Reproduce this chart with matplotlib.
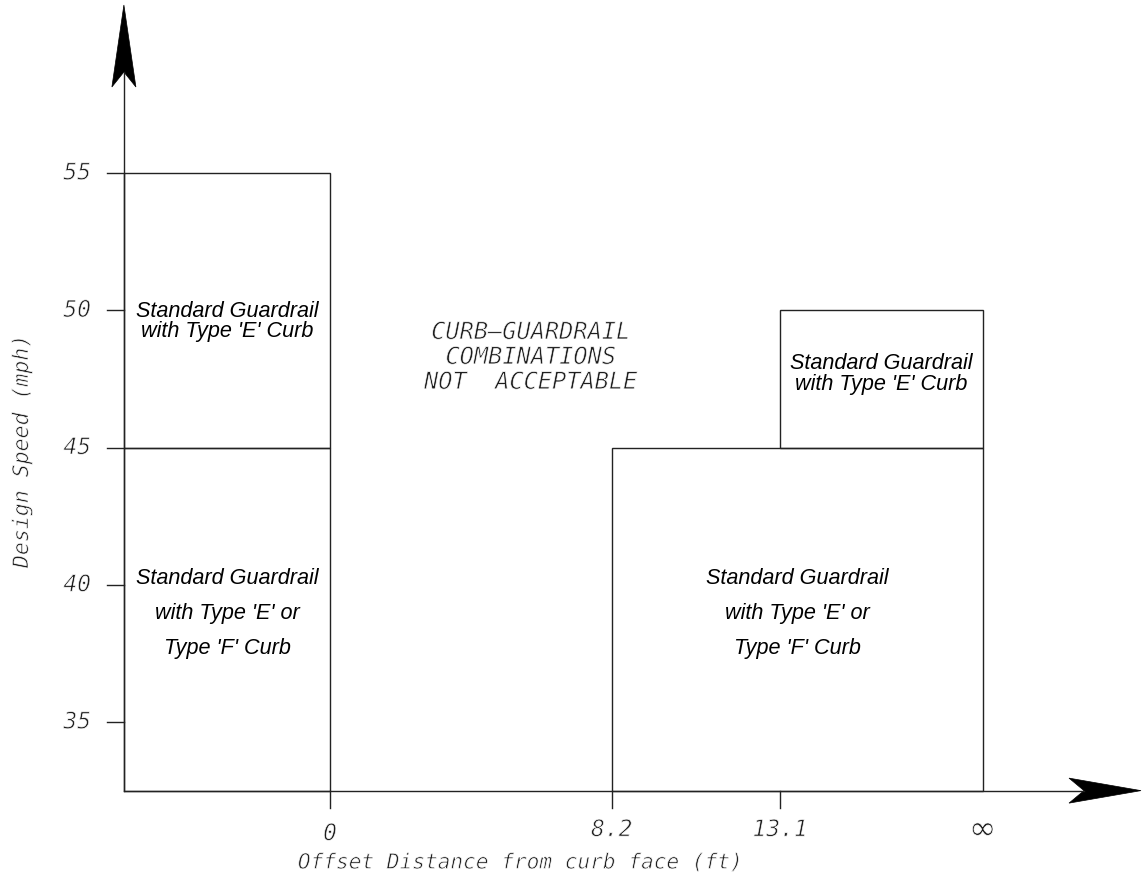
import matplotlib
matplotlib.use("Agg")
import matplotlib.pyplot as plt
import matplotlib.patheffects as pe
from matplotlib.patches import Rectangle, Polygon

# ---- data ----
speed_ticks = [35, 40, 45, 50, 55]
offset_ticks = [0, 8.2, 13.1]
offset_labels = ["0", "8.2", "13.1", "\u221e"]
inf_pos = 19.0          # plotting position used for "infinity"
x_origin = -6.0         # where the vertical axis sits
y_origin = 32.5         # where the horizontal axis sits

# regions: (x_left, x_right, y_bottom, y_top)
region_x0 = [x_origin, x_origin, 8.2, 13.1]
region_x1 = [0, 0, inf_pos, inf_pos]
region_y0 = [y_origin, 45, y_origin, 45]
region_y1 = [45, 55, 45, 50]
region_text = [
    "Standard Guardrail\nwith Type 'E' or\nType 'F' Curb",
    "Standard Guardrail\nwith Type 'E' Curb",
    "Standard Guardrail\nwith Type 'E' or\nType 'F' Curb",
    "Standard Guardrail\nwith Type 'E' Curb",
]
region_text_y = [38.95, 49.6, 38.95, 47.68]
region_linespacing = [1.9, 0.95, 1.9, 0.95]

center_text = "CURB\u2013GUARDRAIL\nCOMBINATIONS\nNOT  ACCEPTABLE"

# ---- figure ----
W, H = 1142, 894
fig = plt.figure(figsize=(W / 100, H / 100), dpi=100)
ax = fig.add_axes([0, 0, 1, 1])
px_x = 34.35   # pixels per ft
px_y = 27.45   # pixels per mph
x0_px, y55_px = 330, 173
ax.set_xlim(-x0_px / px_x, (W - x0_px) / px_x)
ax.set_ylim(55 - (H - y55_px) / px_y, 55 + y55_px / px_y)
ax.axis("off")

LC = "#222222"
LW = 1.0
TC = "#1e1e1e"
thin = [pe.Stroke(linewidth=0.5, foreground="white")]
cad = dict(family="DejaVu Sans Mono", style="oblique", color=TC,
           path_effects=thin)

# regions
for xa, xb, ya, yb in zip(region_x0, region_x1, region_y0, region_y1):
    ax.add_patch(Rectangle((xa, ya), xb - xa, yb - ya, fill=False,
                           edgecolor=LC, linewidth=LW))
for xa, xb, ty, t, ls in zip(region_x0, region_x1, region_text_y,
                             region_text, region_linespacing):
    ax.text((xa + xb) / 2, ty, t, ha="center", va="center",
            family="Liberation Sans", style="italic", fontsize=15.6,
            color="black", linespacing=ls)

# axes lines
ytop = ax.get_ylim()[1] - 5 / px_y
xright = ax.get_xlim()[1] - 1 / px_x
head_len_y, notch_y, half_w_y = 82 / px_y, 67 / px_y, 12 / px_x
head_len_x, notch_x, half_w_x = 72 / px_x, 57 / px_x, 12.5 / px_y
ax.plot([x_origin, x_origin], [y_origin, ytop - notch_y], color=LC, lw=LW)
ax.plot([x_origin, xright - notch_x], [y_origin, y_origin], color=LC, lw=LW)
ax.add_patch(Polygon([(x_origin, ytop),
                      (x_origin + half_w_y, ytop - head_len_y),
                      (x_origin, ytop - notch_y),
                      (x_origin - half_w_y, ytop - head_len_y)],
                     closed=True, facecolor="black", edgecolor="black", lw=0.5))
ax.add_patch(Polygon([(xright, y_origin),
                      (xright - head_len_x, y_origin + half_w_x),
                      (xright - notch_x, y_origin),
                      (xright - head_len_x, y_origin - half_w_x)],
                     closed=True, facecolor="black", edgecolor="black", lw=0.5))

# ticks
tlx = 17 / px_x
tly = 17 / px_y
for s in speed_ticks:
    ax.plot([x_origin - tlx, x_origin], [s, s], color=LC, lw=LW)
    ax.text(x_origin - 33 / px_x, s, str(s), ha="right", va="center",
            fontsize=16.5, **cad)
for o in offset_ticks:
    ax.plot([o, o], [y_origin, y_origin - tly], color=LC, lw=LW)
for pos, lab in zip(offset_ticks + [inf_pos], offset_labels):
    dy = 43 / px_y if lab == "0" else 39 / px_y
    if lab == "\u221e":
        ax.text(pos, y_origin - dy, lab, ha="center", va="center",
                fontsize=24, family="DejaVu Sans", color=TC,
                path_effects=thin)
    else:
        ax.text(pos, y_origin - dy, lab, ha="center", va="center",
                fontsize=16.5, **cad)

# axis titles
ax.text(5.56, y_origin - 72 / px_y, "Offset Distance from curb face (ft)",
        ha="center", va="center", fontsize=15.2, **cad)
ax.text(-x0_px / px_x + 22 / px_x, 44.87, "Design Speed (mph)", rotation=90,
        ha="center", va="center", fontsize=15.5, **cad)

# centre note
ax.text(5.85, 48.3, center_text, ha="center", va="center", fontsize=17,
        linespacing=1.05, **cad)

fig.savefig("out.png", dpi=100)
